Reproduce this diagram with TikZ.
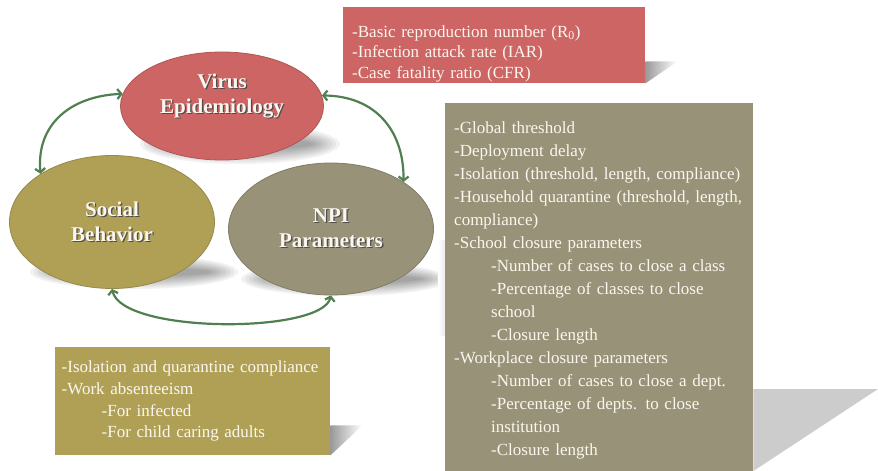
\documentclass[tikz,border=0pt]{standalone}
\usepackage{fontspec}
\setmainfont{Liberation Serif}
\usetikzlibrary{shapes.geometric,arrows.meta,backgrounds}
\definecolor{epired}{RGB}{205,101,101}
\definecolor{socolive}{RGB}{176,160,86}
\definecolor{npigray}{RGB}{151,146,120}
\definecolor{linkgreen}{RGB}{80,128,79}
\definecolor{paper}{RGB}{251,247,238}
\newcommand{\embossed}[1]{\rlap{\kern1.3pt\raisebox{-1.3pt}{\textcolor{black!70}{#1}}}#1}
\newcommand{\stepin}{\hspace*{37pt}}

\begin{document}
\begin{tikzpicture}[x=1pt,y=-1pt,
  circ/.style={ellipse,draw=#1!85!black,fill=#1,line width=.8pt,
    text=paper,align=center,font=\fontsize{21}{25}\selectfont\bfseries},
  info/.style={rectangle,fill=#1,anchor=north west,text=paper,align=left,
    inner xsep=9pt,inner ysep=0pt},
  link/.style={linkgreen,line width=2.2pt,
    {Straight Barb[length=4pt,width=10pt]}-{Straight Barb[length=4pt,width=10pt]}},
  blur/.style={black,opacity=.05}]

  \useasboundingbox (0,0) rectangle (878,471);

  % the three factors
  \node[circ=epired,minimum width=203pt,minimum height=108pt,text depth=25pt]
    (virus) at (222,106) {\embossed{Virus}\\\embossed{Epidemiology}};
  \node[circ=socolive,minimum width=205pt,minimum height=133pt]
    (social) at (112,222) {\embossed{Social}\\\embossed{Behavior}};
  \node[circ=npigray,minimum width=205pt,minimum height=132pt]
    (npi) at (331,229) {\embossed{NPI}\\\embossed{Parameters}};

  \draw[link] (social.146) .. controls (36,125) and (70,96) .. (virus.173);
  \draw[link] (virus.6) .. controls (375,96) and (404,130) .. (npi.33);
  \draw[link] (social.270) .. controls (122,334) and (322,334) .. (npi.270);

  % parameter lists
  \node[info=epired,text width=284pt,minimum height=76pt,
    font=\fontsize{17}{20.5}\selectfont] (epibox) at (343,7)
    {\rule{0pt}{29pt}-Basic reproduction number (R\textsubscript{0})\\
     -Infection attack rate (IAR)\\
     -Case fatality ratio (CFR)};

  \node[info=npigray,text width=290pt,minimum height=374pt,
    font=\fontsize{17}{23}\selectfont] (npibox) at (445,103)
    {-Global threshold\\
     -Deployment delay\\
     -Isolation (threshold, length, compliance)\\
     -Household quarantine (threshold, length,\\
     compliance)\\
     -School closure parameters\\
     \stepin-Number of cases to close a class\\
     \stepin-Percentage of classes to close\\
     \stepin school\\
     \stepin-Closure length\\
     -Workplace closure parameters\\
     \stepin-Number of cases to close a dept.\\
     \stepin-Percentage of depts. to close\\
     \stepin institution\\
     \stepin-Closure length};

  \node[info=socolive,inner xsep=6.5pt,text width=262pt,minimum height=108pt,
    font=\fontsize{17}{21.7}\selectfont] (socbox) at (55,347)
    {-Isolation and quarantine compliance\\
     -Work absenteeism\\
     \hspace*{40pt}-For infected\\
     \hspace*{40pt}-For child caring adults};

  % soft shadows
  \begin{pgfonlayer}{background}
    \fill[white] (0,0) rectangle (878,471);
    \foreach \r in {0,...,7} {
      \fill[blur] ([xshift=18pt,yshift=-38pt]virus.center) ellipse ({100pt-4pt*\r} and {20pt-2pt*\r});
      \fill[blur] ([xshift=22pt,yshift=-50pt]social.center) ellipse ({104pt-4pt*\r} and {17pt-1.8pt*\r});
      \fill[blur] ([xshift=14pt,yshift=-50pt]npi.center) ellipse ({104pt-4pt*\r} and {17pt-1.8pt*\r});
    }
    \shade[left color=black!40,right color=white] (epibox.south east) ++(0,-22) -- ++(32,0) -- (epibox.south east) -- cycle;
    \shade[left color=black!40,right color=white] (socbox.south east) ++(0,-30) -- ++(32,0) -- (socbox.south east) -- cycle;
    \fill[black!20] (npibox.east |- 0,389) -- (878,389) -- (npibox.east |- 0,471) -- cycle;
    \shade[left color=white,right color=black!8] (438,240) rectangle (npibox.west |- 0,335);
  \end{pgfonlayer}
\end{tikzpicture}
\end{document}
